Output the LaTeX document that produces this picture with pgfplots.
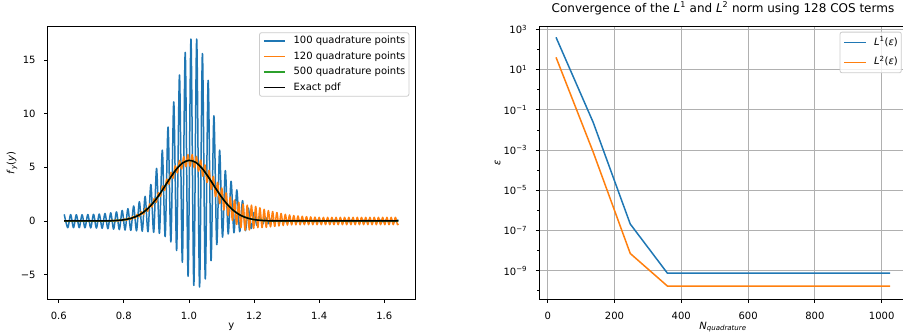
\documentclass[border=0pt]{standalone}
\usepackage{fontspec}
\setmainfont{DejaVu Sans}
\usepackage{pgfplots}
\pgfplotsset{compat=1.18}
\definecolor{mplblue}{HTML}{1F77B4}
\definecolor{mplorange}{HTML}{FF7F0E}
\definecolor{mplgreen}{HTML}{2CA02C}
\definecolor{mplgrid}{HTML}{B0B0B0}
\definecolor{legframe}{HTML}{CCCCCC}
\pgfplotsset{
  mplbase/.style={
    scale only axis, width=367.3pt, height=272.6pt, anchor=south west,
    axis line style={line width=0.8pt},
    tick align=outside, major tick length=3.5pt, minor tick length=2pt,
    every tick/.style={black, line width=0.8pt},
    tick pos=left,
    font=\fontsize{10pt}{12pt}\selectfont,
    xticklabel style={font=\fontsize{10pt}{12pt}\selectfont, inner sep=0pt, anchor=north, yshift=-9pt},
    yticklabel style={font=\fontsize{10pt}{12pt}\selectfont, inner sep=0pt, anchor=east, xshift=-8.5pt},
    legend cell align=left,
    legend image code/.code={\draw[#1, line width=1.5pt] (0pt,0pt) -- (21.7pt,0pt);},
    legend style={
      at={(rel axis cs:1,1)}, anchor=north east,
      draw=legframe, line width=0.8pt, rounded corners=2pt,
      fill=white, fill opacity=0.8, text opacity=1,
      font=\fontsize{10pt}{12pt}\selectfont,
      inner xsep=3.5pt, column sep=7.3pt,
      nodes={inner sep=0pt, text height=7.5pt, text depth=2.5pt},
    },
  },
}
\begin{document}
\begin{tikzpicture}
\begin{axis}[mplbase,
  at={(47.7pt,33.7pt)},
  xmin=0.5662, xmax=1.6943, ymin=-7.295, ymax=18.10,
  xtick={0.6,0.8,1.0,1.2,1.4,1.6}, xticklabels={0.6,0.8,1.0,1.2,1.4,1.6},
  ytick={-5,0,5,10,15}, yticklabels={−5,0,5,10,15},
  xlabel={y}, xlabel style={at={(axis description cs:0.5,-0.1064)}, anchor=base, inner sep=0pt},
  ylabel={\textit{f}\textsubscript{\textit{y}}(\textit{y})},
  ylabel style={at={(axis description cs:-0.097,0.5)}, anchor=center, inner sep=0pt},
  legend style={xshift=-5.7pt, yshift=-5.6pt, row sep=5.5pt, inner ysep=3.5pt},
]
\addplot[mplblue, line width=1.5pt, smooth, line join=round] coordinates {
(0.617,0.62)(0.6278,-0.62)(0.6366,0.60)(0.6454,-0.62)(0.6542,0.58)(0.6630,-0.62)(0.6718,0.58)(0.6806,-0.63)
(0.6894,0.60)(0.6982,-0.64)(0.7070,0.62)(0.7158,-0.66)(0.7246,0.65)(0.7334,-0.68)(0.7422,0.70)(0.7510,-0.72)
(0.7598,0.76)(0.7686,-0.76)(0.7774,0.85)(0.7862,-0.80)(0.7950,0.98)(0.8038,-0.84)(0.8126,1.15)(0.8214,-0.88)
(0.8302,1.40)(0.8390,-0.92)(0.8478,1.80)(0.8566,-0.95)(0.8654,2.30)(0.8742,-1.00)(0.8830,3.40)(0.8918,-1.06)
(0.9006,4.90)(0.9094,-1.15)(0.9182,6.60)(0.9270,-1.45)(0.9358,8.75)(0.9446,-1.95)(0.9534,11.10)(0.9622,-2.75)
(0.9710,13.60)(0.9798,-3.85)(0.9886,15.70)(0.9974,-5.15)(1.0062,16.95)(1.0150,-6.00)(1.0238,16.95)(1.0326,-6.15)
(1.0414,15.60)(1.0502,-5.40)(1.0590,13.10)(1.0678,-3.70)(1.0766,9.80)(1.0854,-2.20)(1.0942,6.60)(1.1030,-1.50)
(1.1118,4.70)(1.1206,-1.20)(1.1294,3.70)(1.1382,-1.10)(1.1470,2.90)(1.1558,-1.00)(1.1646,1.90)(1.1734,-0.90)
(1.1822,1.20)(1.1910,-0.70)(1.1998,0.80)(1.2086,-0.40)(1.2174,0.50)(1.2262,-0.30)(1.2350,0.35)(1.2438,-0.25)
(1.2526,0.20)(1.2614,-0.12)(1.2702,0.08)(1.2790,-0.08)(1.2878,0.08)(1.2966,-0.08)(1.3054,0.08)(1.3142,-0.08)
(1.3230,0.08)(1.3318,-0.08)(1.3406,0.08)(1.3494,-0.08)(1.3582,0.08)(1.3670,-0.08)(1.3758,0.08)(1.3846,-0.08)
(1.3934,0.08)(1.4022,-0.08)(1.4110,0.08)(1.4198,-0.08)(1.4286,0.08)(1.4374,-0.08)(1.4462,0.08)(1.4550,-0.08)
(1.4638,0.08)(1.4726,-0.08)(1.4814,0.08)(1.4902,-0.08)(1.4990,0.08)(1.5078,-0.08)(1.5166,0.08)(1.5254,-0.08)
(1.5342,0.08)(1.5430,-0.08)(1.5518,0.08)(1.5606,-0.08)(1.5694,0.08)(1.5782,-0.08)(1.5870,0.08)(1.5958,-0.08)
(1.6046,0.08)(1.6134,-0.08)(1.6222,0.08)(1.6310,-0.08)(1.6398,0.08)(1.643,0.05)
};
\addlegendentry{100 quadrature points}
\addplot[mplorange, line width=1.5pt, smooth, line join=round] coordinates {
(0.617,0)(0.6200,0.03)(0.6265,-0.03)(0.6330,0.03)(0.6395,-0.03)(0.6460,0.03)(0.6525,-0.03)(0.6590,0.03)
(0.6655,-0.03)(0.6720,0.03)(0.6785,-0.03)(0.6850,0.03)(0.6915,-0.03)(0.6980,0.03)(0.7045,-0.03)(0.7110,0.03)
(0.7175,-0.03)(0.7240,0.03)(0.7305,-0.03)(0.7370,0.03)(0.7435,-0.03)(0.7500,0.04)(0.7565,-0.02)
(0.7630,0.073)(0.7695,-0.024)(0.7760,0.101)(0.7825,-0.011)(0.7890,0.141)(0.7955,0.017)(0.8020,0.199)(0.8085,0.063)
(0.8150,0.294)(0.8215,0.134)(0.8280,0.425)(0.8345,0.247)(0.8410,0.614)(0.8475,0.405)(0.8540,0.863)(0.8605,0.619)
(0.8670,1.184)(0.8735,0.919)(0.8800,1.595)(0.8865,1.300)(0.8930,2.076)(0.8995,1.751)(0.9060,2.633)(0.9125,2.279)
(0.9190,3.257)(0.9255,2.853)(0.9320,3.902)(0.9385,3.430)(0.9450,4.540)(0.9515,3.988)(0.9580,5.128)(0.9645,4.474)
(0.9710,5.630)(0.9775,4.842)(0.9840,5.986)(0.9905,5.058)(0.9970,6.176)(1.0035,5.100)(1.0100,6.185)(1.0165,4.957)
(1.0230,6.015)(1.0295,4.643)(1.0360,5.684)(1.0425,4.173)(1.0490,5.235)(1.0555,3.597)(1.0620,4.713)(1.0685,2.948)
(1.0750,4.149)(1.0815,2.271)(1.0880,3.598)(1.0945,1.615)(1.1010,3.075)(1.1075,1.031)(1.1140,2.615)(1.1205,0.508)
(1.1270,2.232)(1.1335,0.056)(1.1400,1.950)(1.1465,-0.326)(1.1530,1.737)(1.1595,-0.624)(1.1660,1.582)(1.1725,-0.858)
(1.1790,1.475)(1.1855,-0.830)(1.1920,1.474)(1.1985,-0.694)(1.2050,1.356)(1.2115,-0.618)(1.2180,1.223)(1.2245,-0.612)
(1.2310,1.086)(1.2375,-0.593)(1.2440,0.970)(1.2505,-0.545)(1.2570,0.881)(1.2635,-0.502)(1.2700,0.790)(1.2765,-0.460)
(1.2830,0.700)(1.2895,-0.420)(1.2960,0.620)(1.3025,-0.380)(1.3090,0.560)(1.3155,-0.360)(1.3220,0.510)(1.3285,-0.350)
(1.3350,0.470)(1.3415,-0.350)(1.3480,0.440)(1.3545,-0.340)(1.3610,0.410)(1.3675,-0.340)(1.3740,0.380)(1.3805,-0.340)
(1.3870,0.360)(1.3935,-0.340)(1.4000,0.340)(1.4065,-0.34)(1.4130,0.34)(1.4195,-0.34)(1.4260,0.34)(1.4325,-0.34)
(1.4390,0.34)(1.4455,-0.34)(1.4520,0.34)(1.4585,-0.34)(1.4650,0.34)(1.4715,-0.34)(1.4780,0.34)(1.4845,-0.34)
(1.4910,0.34)(1.4975,-0.34)(1.5040,0.34)(1.5105,-0.34)(1.5170,0.34)(1.5235,-0.34)(1.5300,0.34)(1.5365,-0.34)
(1.5430,0.34)(1.5495,-0.34)(1.5560,0.34)(1.5625,-0.34)(1.5690,0.34)(1.5755,-0.34)(1.5820,0.34)(1.5885,-0.34)
(1.5950,0.34)(1.6015,-0.34)(1.6080,0.34)(1.6145,-0.34)(1.6210,0.34)(1.6275,-0.34)(1.6340,0.34)(1.6405,-0.34)
(1.643,-0.25)
};
\addlegendentry{120 quadrature points}
\addplot[mplgreen, line width=1.5pt, smooth] coordinates {
(0.617,0)(0.66,0)(0.70,0.001)(0.72,0.003)(0.74,0.007)(0.76,0.020)(0.78,0.049)(0.80,0.110)(0.82,0.232)
(0.84,0.450)(0.86,0.808)(0.88,1.345)(0.90,2.071)(0.92,2.954)(0.94,3.900)(0.96,4.766)(0.98,5.392)(1.00,5.648)
(1.02,5.476)(1.04,4.916)(1.06,4.084)(1.08,3.142)(1.10,2.237)(1.12,1.475)(1.14,0.900)(1.16,0.508)(1.18,0.266)
(1.20,0.129)(1.22,0.058)(1.24,0.024)(1.26,0.009)(1.28,0.003)(1.30,0.001)(1.35,0)(1.643,0)
};
\addlegendentry{500 quadrature points}
\addplot[black, line width=1.5pt, smooth] coordinates {
(0.617,0)(0.66,0)(0.70,0.001)(0.72,0.003)(0.74,0.007)(0.76,0.020)(0.78,0.049)(0.80,0.110)(0.82,0.232)
(0.84,0.450)(0.86,0.808)(0.88,1.345)(0.90,2.071)(0.92,2.954)(0.94,3.900)(0.96,4.766)(0.98,5.392)(1.00,5.648)
(1.02,5.476)(1.04,4.916)(1.06,4.084)(1.08,3.142)(1.10,2.237)(1.12,1.475)(1.14,0.900)(1.16,0.508)(1.18,0.266)
(1.20,0.129)(1.22,0.058)(1.24,0.024)(1.26,0.009)(1.28,0.003)(1.30,0.001)(1.35,0)(1.643,0)
};
\addlegendentry{Exact pdf}
\end{axis}

\begin{axis}[mplbase,
  at={(539.3pt,33.7pt)}, width=367.4pt,
  xmin=-25.1, xmax=1074.9, ymode=log, ymin=3.8e-11, ymax=1349,
  xtick={0,200,400,600,800,1000},
  ytick={1e3,1e1,1e-1,1e-3,1e-5,1e-7,1e-9},
  yticklabels={10\textsuperscript{3},10\textsuperscript{1},10\textsuperscript{−1},10\textsuperscript{−3},10\textsuperscript{−5},10\textsuperscript{−7},10\textsuperscript{−9}},
  minor ytick={1e2,1e0,1e-2,1e-4,1e-6,1e-8,1e-10},
  xmajorgrids, ymajorgrids, major grid style={mplgrid, line width=0.8pt},
  xticklabel={$\pgfmathprintnumber{\tick}$},
  xticklabels={0,200,400,600,800,1000},
  title={Convergence of the \textit{L}\textsuperscript{1} and \textit{L}\textsuperscript{2} norm using 128 COS terms},
  title style={font=\fontsize{12pt}{14.4pt}\selectfont, at={(axis description cs:0.5,1.0319)}, anchor=base, inner sep=0pt},
  xlabel={\textit{N}\textsubscript{\textit{quadrature}}},
  xlabel style={at={(axis description cs:0.5,-0.109)}, anchor=base, inner sep=0pt},
  ylabel={\textit{ε}},
  ylabel style={at={(axis description cs:-0.1132,0.5)}, anchor=center, inner sep=0pt},
  legend style={xshift=-5pt, yshift=-5pt, row sep=9.7pt, inner ysep=5.5pt},
]
\addplot[mplblue, line width=1.5pt] coordinates {
(25,400)(136.1,0.024)(247.2,2.1e-7)(358.3,7.6e-10)(469.4,7.6e-10)(580.6,7.6e-10)(691.7,7.6e-10)(802.8,7.6e-10)(913.9,7.6e-10)(1025,7.6e-10)
};
\addlegendentry{\textit{L}\textsuperscript{1}(\textit{ε})}
\addplot[mplorange, line width=1.5pt] coordinates {
(25,40.5)(136.1,8e-4)(247.2,7.2e-9)(358.3,1.74e-10)(469.4,1.74e-10)(580.6,1.74e-10)(691.7,1.74e-10)(802.8,1.74e-10)(913.9,1.74e-10)(1025,1.74e-10)
};
\addlegendentry{\textit{L}\textsuperscript{2}(\textit{ε})}
\end{axis}
\pgfresetboundingbox
\path[use as bounding box] (0,0) rectangle (903pt,333pt);
\end{tikzpicture}
\end{document}
